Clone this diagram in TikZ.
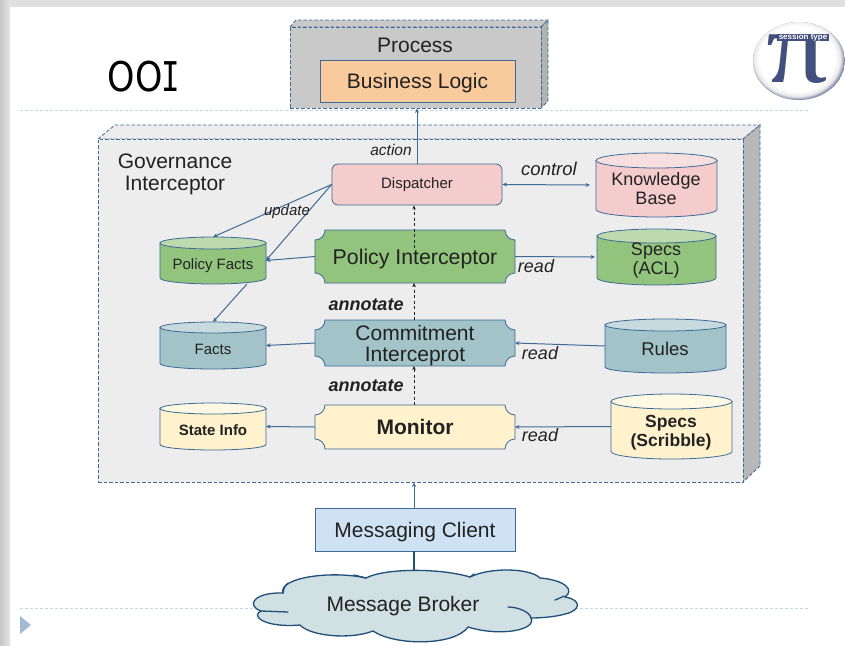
\documentclass[tikz,border=0pt]{standalone}
\usepackage{fontspec}
\setmainfont{Liberation Sans}
\newfontfamily\titlefont[FakeStretch=0.75]{DejaVu Sans Mono}
\newfontfamily\titleround[FakeStretch=0.85]{DejaVu Sans}
\newfontfamily\pifont[FakeStretch=1.2]{Liberation Serif}
\usetikzlibrary{arrows.meta,calc}
\definecolor{edge}{HTML}{3D6A96}
\definecolor{ink}{HTML}{222222}
\definecolor{cloudedge}{HTML}{1F4E79}
\definecolor{pival}{HTML}{434F7D}
\definecolor{pishade}{HTML}{8E95B1}
\definecolor{guidecol}{HTML}{C5D6E6}
\definecolor{ctri}{HTML}{A4B9D3}
\definecolor{cpeach}{HTML}{F9CB9C}
\definecolor{cpink}{HTML}{F4CCCC}
\definecolor{cpinktop}{HTML}{F8DFDF}
\definecolor{cgreen}{HTML}{93C47D}
\definecolor{cgreentop}{HTML}{BCDAAD}
\definecolor{cteal}{HTML}{A2C4C9}
\definecolor{ctealtop}{HTML}{C7DBDE}
\definecolor{cyellow}{HTML}{FFF2CC}
\definecolor{cyellowtop}{HTML}{FFF8E3}
\definecolor{cblue}{HTML}{CFE2F3}
\definecolor{ccloud}{HTML}{D0E0E3}
\pgfdeclareradialshading{logoshade}{\pgfpoint{0bp}{0bp}}{color(0bp)=(white); color(20bp)=(white); color(23bp)=(black!8); color(25bp)=(pishade)}
\newcommand{\fs}[1]{\fontsize{#1}{#1}\selectfont}
\newcommand{\fsl}[2]{\fontsize{#1}{#2}\selectfont}
\tikzset{
  x=1pt,y=-1pt,
  outline/.style={draw=edge,line width=0.8pt},
  dashedge/.style={draw=edge,line width=0.8pt,dash pattern=on 3.5pt off 2pt},
  label/.style={text=ink,inner sep=0pt,align=center},
  ghost/.style={inner sep=0pt,outer sep=0pt},
  conn/.style={draw=edge,line width=1pt,-{Stealth[length=4.5pt,width=4pt]}},
  annot/.style={draw=ink,line width=0.8pt,dash pattern=on 3pt off 2.5pt,-{Stealth[length=4pt,width=3.5pt]}},
  guide/.style={draw=guidecol,line width=0.7pt,dash pattern=on 3pt off 2pt},
}
% name,x1,y1,x2,y2,ry,body,top
\newcommand{\cyl}[8]{%
  \pgfmathsetmacro{\cw}{#4-#2}\pgfmathsetmacro{\cm}{(#4+#2)/2}%
  \path[outline,fill=#7] (#2,#3+#6) -- (#2,#5-#6)
    .. controls (#2,#5-0.45*#6) and (\cm-0.275*\cw,#5) .. (\cm,#5)
    .. controls (\cm+0.275*\cw,#5) and (#4,#5-0.45*#6) .. (#4,#5-#6)
    -- (#4,#3+#6) -- cycle;
  \path[outline,fill=#8] (#2,#3+#6)
    .. controls (#2,#3+0.45*#6) and (\cm-0.275*\cw,#3) .. (\cm,#3)
    .. controls (\cm+0.275*\cw,#3) and (#4,#3+0.45*#6) .. (#4,#3+#6)
    .. controls (#4,#3+1.55*#6) and (\cm+0.275*\cw,#3+2*#6) .. (\cm,#3+2*#6)
    .. controls (\cm-0.275*\cw,#3+2*#6) and (#2,#3+1.55*#6) .. (#2,#3+#6) -- cycle;
  \node[ghost,minimum width=\cw pt,minimum height={(#5-#3)*1pt}] (#1) at (\cm,{(#3+#5)/2}) {};
}
% name,x1,y1,x2,y2,fill,text options,text
\newcommand{\plaque}[8]{%
  \pgfmathsetmacro{\pw}{#4-#2}\pgfmathsetmacro{\pmid}{(#4+#2)/2}%
  \path[outline,fill=#6] (#2+10,#3) -- (#4-10,#3)
    .. controls (#4-10,#3+5.5) and (#4-5.5,#3+10) .. (#4,#3+10)
    -- (#4,#5-10)
    .. controls (#4-5.5,#5-10) and (#4-10,#5-5.5) .. (#4-10,#5)
    -- (#2+10,#5)
    .. controls (#2+10,#5-5.5) and (#2+5.5,#5-10) .. (#2,#5-10)
    -- (#2,#3+10)
    .. controls (#2+5.5,#3+10) and (#2+10,#3+5.5) .. (#2+10,#3) -- cycle;
  \node[ghost,text=ink,align=center,minimum width=\pw pt,minimum height={(#5-#3)*1pt},#7] (#1) at (\pmid,{(#3+#5)/2}) {#8};
}
\begin{document}
\begin{tikzpicture}
\useasboundingbox (0,0) rectangle (845,645);
% slide background
\fill[white] (0,0) rectangle (845,645);
\shade[left color=black!22,right color=black!10] (0,0) rectangle (10,645);
\fill[black!12] (10,0) rectangle (845,7);
\draw[guide] (20,110) -- (810,110);
\draw[guide] (20,608) -- (810,608);
\fill[ctri] (20,616) -- (31,625) -- (20,634) -- cycle;
\node[inner sep=0pt,text=black,font=\fs{41}] (ooititle) at (144,77) {{\titleround OO}\kern-1pt{\titlefont I}};

% logo
\begin{scope}
\clip (799,61) ellipse [x radius=46,y radius=39];
\fill[pishade] (799,61) ellipse [x radius=46,y radius=39];
\shade[shading=logoshade] (797,58.5) ellipse [x radius=47,y radius=41];
\end{scope}
\node[inner sep=0pt,text=pival,font=\fs{104}] (pilogo) at (798,59.5) {\pifont π};
\fill[pival] (777,34) rectangle (829,41);
\node[inner sep=0pt,text=white,font=\fs{8}\bfseries] (pitag) at (803,37.5) {session type};

% process box
\path[dashedge,fill=black!21] (290,27) -- (296,20) -- (548,20) -- (541,27) -- cycle;
\path[dashedge,fill=black!30] (541,27) -- (548,20) -- (548,101) -- (541,108) -- cycle;
\node[dashedge,fill=black!21,minimum width=251pt,minimum height=81pt,inner sep=0pt] (proc) at (415.5,67.5) {};
\node[label,font=\fs{21}] (proctitle) at (415,45) {Process};
\node[outline,fill=cpeach,minimum width=195pt,minimum height=42pt,inner sep=0pt,text=ink,font=\fs{21},text depth=0pt] (logic) at (417.5,81) {Business Logic};

% governance box
\path[dashedge,fill=black!7] (98,139) -- (115,125) -- (760,125) -- (743,139) -- cycle;
\path[dashedge,fill=black!28] (743,139) -- (760,125) -- (760,466) -- (743,482) -- cycle;
\node[dashedge,fill=black!7,minimum width=645pt,minimum height=343pt,inner sep=0pt] (gov) at (420.5,310.5) {};
\node[label,font=\fsl{21}{22}] (govtitle) at (175,174) {Governance\\Interceptor};

% dispatcher and stores
\node[outline,fill=cpink,rounded corners=6pt,minimum width=170pt,minimum height=41pt,inner sep=0pt,text=ink,font=\fs{15}] (disp) at (417,184.5) {Dispatcher};
\cyl{kb}{596}{153}{717}{217}{7.5}{cpink}{cpinktop}
\node[label,font=\fsl{18}{19}] (kbl) at (656,189) {Knowledge\\Base};
\plaque{pol}{315}{230}{515}{283}{cgreen}{font=\fs{21.3},text depth=0pt}{Policy Interceptor}
\cyl{acl}{597}{229}{716}{285}{7}{cgreen}{cgreentop}
\node[label,font=\fsl{18}{19}] (acll) at (656,261) {Specs\\(ACL)};
\cyl{pf}{160}{237}{266}{284}{6}{cgreen}{cgreentop}
\node[label,font=\fs{15}] (pfl) at (213,265.5) {Policy Facts};
\cyl{fa}{160}{322}{266}{369}{5.5}{cteal}{ctealtop}
\node[label,font=\fs{15}] (fal) at (213,349) {Facts};
\cyl{si}{160}{403}{266}{450}{5.5}{cyellow}{cyellowtop}
\node[label,font=\fs{15}\bfseries] (sil) at (213,430) {State Info};
\plaque{com}{315}{320}{515}{366}{cteal}{}{}
\node[label,font=\fsl{21}{21}] (coml) at (415,345.5) {Commitment\\Interceprot};
\plaque{mon}{315}{405}{515}{449}{cyellow}{font=\fs{21}\bfseries}{Monitor}
\cyl{ru}{605}{319}{726}{373}{6}{cteal}{ctealtop}
\node[label,font=\fs{18.5}] (rul) at (665,349) {Rules};
\cyl{sc}{611}{394}{732}{459}{7.5}{cyellow}{cyellowtop}
\node[label,font=\fsl{17.5}{19}\bfseries] (scl) at (671,433) {Specs\\(Scribble)};

\node[outline,fill=cblue,minimum width=200pt,minimum height=43pt,inner sep=0pt,text=ink,font=\fs{21},text depth=0pt] (mc) at (415,529.5) {Messaging Client};
\node[ghost,minimum width=324pt,minimum height=70pt] (broker) at (415,603) {};

% connectors
\draw[conn] (disp.north) -- (disp.north |- proc.south);
\draw[draw=edge,line width=1pt,{Stealth[length=4.5pt,width=4pt]}-{Stealth[length=4.5pt,width=4pt]}] (disp.east) -- ($(kb.west)+(-6,0)$);
\draw[conn] (pol.east) -- ($(acl.west)+(-2,0)$);
\draw[conn] (pol.west) -- (pf.east);
\draw[conn] (disp.west) -- (pf.north);
\draw[conn] (disp.west) -- (pf.east);
\draw[conn] ($(pf.south)!0.64!(pf.south east)$) -- (fa.north);
\draw[conn] (com.west) -- (fa.east);
\draw[conn] (mon.west) -- (si.east);
\draw[conn] (ru.west) -- (com.east);
\draw[conn] (sc.west) -- (mon.east);
\draw[annot] ($(pol.north)+(-1,18)$) -- ($(disp.south)+(-3,0)$);
\draw[annot] ($(com.north)+(-1,0)$) -- ($(pol.south)+(-1,0)$);
\draw[annot] ($(mon.north)+(-1,0)$) -- ($(com.south)+(-1,0)$);
\draw[conn] ($(mc.north)+(-1,0)$) -- ($(gov.south)+(-6.5,0)$);
\draw[draw=cloudedge,line width=1.4pt] ($(mc.south)+(-1,0)$) -- ($(broker.north)+(-1,8)$);

% cloud
\path[fill=ccloud,draw=cloudedge,line width=1.3pt]
  (283,593) .. controls (278,578) and (330,570) .. (366,578)
  .. controls (385,568) and (440,568) .. (470,577)
  .. controls (490,567) and (530,568) .. (540,578)
  .. controls (565,580) and (575,590) .. (565,597)
  .. controls (583,600) and (580,611) .. (565,614)
  .. controls (555,617) and (540,618) .. (531,618)
  .. controls (537,630) and (500,637) .. (468,627)
  .. controls (455,646) and (395,646) .. (373,631)
  .. controls (350,640) and (310,636) .. (300,625)
  .. controls (265,628) and (250,616) .. (261,611)
  .. controls (245,605) and (255,592) .. (283,593) -- cycle;
\draw[cloudedge,line width=1.3pt,line cap=round] (261,611) -- (288,612);
\draw[cloudedge,line width=1.3pt,line cap=round] (564,596) .. controls (560,598) and (558,599) .. (555,600);
\draw[cloudedge,line width=1.3pt,line cap=round] (531,618) .. controls (530,612) and (518,607) .. (508,607);
\draw[cloudedge,line width=1.3pt,line cap=round] (283,593) .. controls (283,590) and (284,587) .. (288,583);
\draw[cloudedge,line width=1.3pt,line cap=round] (366,578) -- (354,575);
\draw[cloudedge,line width=1.3pt,line cap=round] (470,577) -- (474,574);
\node[label,font=\fs{21},text depth=0pt] (brokerl) at (403,604) {Message Broker};

% edge labels
\node[label,font=\fs{15.5}\itshape] (lact) at (391,150) {action};
\node[label,font=\fs{18.5}\itshape] (lctl) at (549,169) {control};
\node[label,font=\fs{15}\itshape] (lupd) at (287,212) {update};
\node[label,font=\fs{18}\itshape] (lrd1) at (536,266) {read};
\node[label,font=\fs{18}\itshape] (lrd2) at (540,353) {read};
\node[label,font=\fs{18}\itshape] (lrd3) at (540,435) {read};
\node[label,font=\fs{18}\bfseries\itshape] (lan1) at (366,305) {annotate};
\node[label,font=\fs{18}\bfseries\itshape] (lan2) at (366,386) {annotate};
\end{tikzpicture}
\end{document}
